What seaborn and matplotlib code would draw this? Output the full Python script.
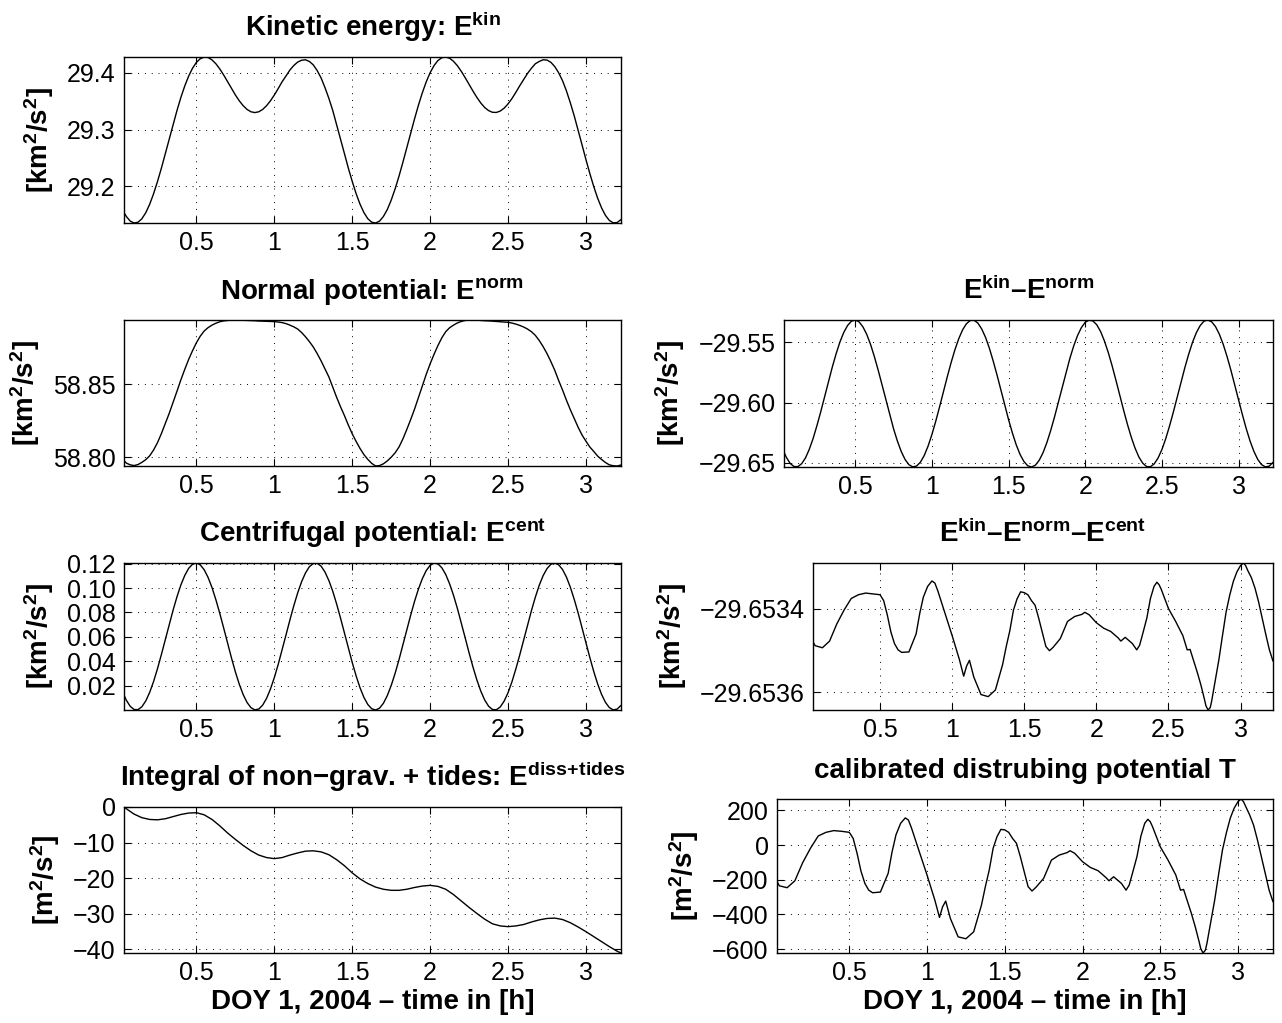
import matplotlib
matplotlib.use("Agg")
import matplotlib.pyplot as plt
import seaborn as sns

# ---------------- data ----------------
# main time grid [h]
t_grid = [0.035, 0.05, 0.10, 0.15, 0.20, 0.25, 0.30, 0.35, 0.40, 0.45,
          0.50, 0.55, 0.60, 0.65, 0.70, 0.75, 0.80, 0.85, 0.90, 0.95,
          1.00, 1.05, 1.10, 1.15, 1.20, 1.25, 1.30, 1.35, 1.40, 1.45,
          1.50, 1.55, 1.60, 1.65, 1.70, 1.75, 1.80, 1.85, 1.90, 1.95,
          2.00, 2.05, 2.10, 2.15, 2.20, 2.25, 2.30, 2.35, 2.40, 2.45,
          2.50, 2.55, 2.60, 2.65, 2.70, 2.75, 2.80, 2.85, 2.90, 2.95,
          3.00, 3.05, 3.10, 3.15, 3.20, 3.225]
# extra in-between read-off times for the smooth curves
t_mid = [0.075, 0.125, 0.175, 0.225, 0.275, 0.325, 0.375, 0.425, 0.475, 0.525,
         0.575, 0.625, 0.675, 0.725, 0.775, 0.825, 0.875, 0.925, 0.975, 1.025,
         1.075, 1.125, 1.175, 1.225, 1.275, 1.325, 1.375, 1.425, 1.475, 1.525,
         1.575, 1.625, 1.675, 1.725, 1.775, 1.825, 1.875, 1.925, 1.975, 2.025,
         2.075, 2.125, 2.175, 2.225, 2.275, 2.325, 2.375, 2.425, 2.475, 2.525,
         2.575, 2.625, 2.675, 2.725, 2.775, 2.825, 2.875, 2.925, 2.975, 3.025,
         3.075, 3.125, 3.175]

e_kin = [29.1538, 29.1470, 29.1355, 29.1430, 29.1686, 29.2086, 29.2576, 29.3091, 29.3566, 29.3942,
         29.4185, 29.4277, 29.4228, 29.4068, 29.3844, 29.3610, 29.3421, 29.3314, 29.3314, 29.3421,
         29.3610, 29.3844, 29.4050, 29.4190, 29.4230, 29.4140, 29.3910, 29.3550, 29.3085, 29.2576,
         29.2086, 29.1686, 29.1430, 29.1355, 29.1470, 29.1757, 29.2179, 29.2680, 29.3190, 29.3650,
         29.4003, 29.4217, 29.4279, 29.4203, 29.4026, 29.3795, 29.3567, 29.3390, 29.3305, 29.3327,
         29.3453, 29.3656, 29.3880, 29.4080, 29.4200, 29.4225, 29.4110, 29.3860, 29.3470, 29.2988,
         29.2472, 29.1998, 29.1623, 29.1401, 29.1363, 29.1416]
e_kin_mid = [29.1388, 29.1369, 29.1538, 29.1871, 29.2321, 29.2833, 29.3336, 29.3769, 29.4082, 29.4250,
             29.4270, 29.4159, 29.3961, 29.3724, 29.3507, 29.3355, 29.3300, 29.3355, 29.3507, 29.3724,
             29.3945, 29.4130, 29.4222, 29.4200, 29.4040, 29.3740, 29.3336, 29.2833, 29.2321, 29.1871,
             29.1538, 29.1369, 29.1388, 29.1592, 29.1955, 29.2424, 29.2937, 29.3432, 29.3842, 29.4128,
             29.4266, 29.4257, 29.4125, 29.3914, 29.3678, 29.3469, 29.3335, 29.3302, 29.3378, 29.3547,
             29.3772, 29.3990, 29.4160, 29.4230, 29.4185, 29.4000, 29.3680, 29.3240, 29.2731, 29.2226,
             29.1793, 29.1490, 29.1358]

e_norm = [58.7977, 58.7960, 58.7943, 58.7965, 58.8010, 58.8100, 58.8230, 58.8375, 58.8530, 58.8670,
          58.8785, 58.8865, 58.8905, 58.8928, 58.8937, 58.8940, 58.8938, 58.8936, 58.8933, 58.8931,
          58.8929, 58.8922, 58.8905, 58.8878, 58.8825, 58.8755, 58.8660, 58.8550, 58.8410, 58.8285,
          58.8160, 58.8060, 58.7985, 58.7940, 58.7955, 58.8000, 58.8070, 58.8190, 58.8330, 58.8490,
          58.8640, 58.8765, 58.8860, 58.8905, 58.8930, 58.8940, 58.8939, 58.8935, 58.8932, 58.8928,
          58.8924, 58.8912, 58.8892, 58.8860, 58.8800, 58.8710, 58.8595, 58.8460, 58.8325, 58.8205,
          58.8110, 58.8040, 58.7985, 58.7948, 58.7940, 58.7947]
e_norm_mid = [58.7948, 58.7950, 58.7984, 58.8050, 58.8162, 58.8300, 58.8452, 58.8602, 58.8730, 58.8830,
              58.8888, 58.8918, 58.8934, 58.8939, 58.8939, 58.8937, 58.8935, 58.8932, 58.8930, 58.8926,
              58.8915, 58.8893, 58.8854, 58.8792, 58.8710, 58.8605, 58.8480, 58.8345, 58.8220, 58.8108,
              58.8018, 58.7958, 58.7943, 58.7975, 58.8030, 58.8125, 58.8258, 58.8410, 58.8568, 58.8705,
              58.8818, 58.8887, 58.8920, 58.8937, 58.8940, 58.8937, 58.8934, 58.8930, 58.8926, 58.8919,
              58.8903, 58.8878, 58.8835, 58.8758, 58.8655, 58.8525, 58.8390, 58.8265, 58.8152, 58.8070,
              58.8008, 58.7964, 58.7942]

e_cent = [0.0121, 0.0080, 0.0004, 0.0027, 0.0145, 0.0339, 0.0576, 0.0818, 0.1025, 0.1161,
          0.1205, 0.1149, 0.1003, 0.0791, 0.0547, 0.0312, 0.0126, 0.0019, 0.0008, 0.0095,
          0.0266, 0.0494, 0.0739, 0.0961, 0.1124, 0.1201, 0.1179, 0.1061, 0.0868, 0.0631,
          0.0389, 0.0182, 0.0045, 0.0000, 0.0055, 0.0201, 0.0412, 0.0656, 0.0891, 0.1077,
          0.1186, 0.1198, 0.1111, 0.0940, 0.0713, 0.0468, 0.0246, 0.0082, 0.0004, 0.0025,
          0.0142, 0.0336, 0.0572, 0.0814, 0.1022, 0.1159, 0.1205, 0.1151, 0.1006, 0.0795,
          0.0551, 0.0316, 0.0129, 0.0020, 0.0007, 0.0038]
e_cent_mid = [0.0030, 0.0003, 0.0075, 0.0234, 0.0455, 0.0700, 0.0928, 0.1103, 0.1195, 0.1189,
              0.1086, 0.0903, 0.0671, 0.0426, 0.0211, 0.0061, 0.0001, 0.0040, 0.0172, 0.0375,
              0.0616, 0.0855, 0.1052, 0.1175, 0.1203, 0.1131, 0.0973, 0.0752, 0.0507, 0.0279,
              0.0103, 0.0010, 0.0015, 0.0118, 0.0300, 0.0533, 0.0777, 0.0992, 0.1143, 0.1204,
              0.1166, 0.1034, 0.0832, 0.0591, 0.0352, 0.0155, 0.0031, 0.0002, 0.0073, 0.0231,
              0.0451, 0.0696, 0.0924, 0.1101, 0.1195, 0.1190, 0.1089, 0.0906, 0.0674, 0.0430,
              0.0214, 0.0063, 0.0001]

e_diss = [0.0, -0.5, -2.0, -3.0, -3.5, -3.6, -3.3, -2.7, -2.1, -1.7,
          -1.6, -2.2, -3.5, -5.3, -7.3, -9.1, -10.8, -12.3, -13.5, -14.2,
          -14.5, -14.2, -13.5, -12.9, -12.4, -12.3, -12.6, -13.4, -14.8, -16.5,
          -18.5, -20.2, -21.5, -22.5, -23.1, -23.4, -23.4, -23.1, -22.6, -22.2,
          -22.0, -22.3, -23.1, -24.6, -26.4, -28.2, -29.9, -31.5, -32.8, -33.4,
          -33.6, -33.4, -33.0, -32.3, -31.7, -31.3, -31.2, -31.6, -32.5, -33.7,
          -35.0, -36.4, -37.8, -39.2, -40.5, -41.0]

e_kin_norm = [-29.6412, -29.6453, -29.6530, -29.6507, -29.6387, -29.6190, -29.5951, -29.5705, -29.5496, -29.5359,
              -29.5314, -29.5371, -29.5518, -29.5733, -29.5980, -29.6218, -29.6406, -29.6515, -29.6526, -29.6438,
              -29.6264, -29.6034, -29.5786, -29.5561, -29.5396, -29.5318, -29.5340, -29.5459, -29.5656, -29.5895,
              -29.6141, -29.6350, -29.6488, -29.6534, -29.6478, -29.6331, -29.6117, -29.5870, -29.5632, -29.5443,
              -29.5333, -29.5322, -29.5409, -29.5582, -29.5812, -29.6060, -29.6285, -29.6451, -29.6530, -29.6508,
              -29.6390, -29.6194, -29.5955, -29.5709, -29.5499, -29.5360, -29.5314, -29.5369, -29.5515, -29.5729,
              -29.5976, -29.6214, -29.6403, -29.6514, -29.6527, -29.6495]
e_kin_norm_mid = [-29.6504, -29.6531, -29.6459, -29.6297, -29.6074, -29.5825, -29.5594, -29.5417, -29.5324, -29.5330,
                  -29.5434, -29.5620, -29.5855, -29.6102, -29.6320, -29.6472, -29.6533, -29.6494, -29.6360, -29.6154,
                  -29.5910, -29.5668, -29.5469, -29.5345, -29.5316, -29.5389, -29.5549, -29.5772, -29.6021, -29.6252,
                  -29.6430, -29.6524, -29.6519, -29.6415, -29.6230, -29.5995, -29.5748, -29.5529, -29.5377, -29.5315,
                  -29.5353, -29.5487, -29.5692, -29.5936, -29.6178, -29.6377, -29.6502, -29.6532, -29.6460, -29.6300,
                  -29.6078, -29.5830, -29.5598, -29.5419, -29.5323, -29.5329, -29.5432, -29.5616, -29.5852, -29.6098,
                  -29.6317, -29.6470, -29.6533]

# residual curves (finer, irregular read-off times)
t_res = [0.035, 0.05, 0.10, 0.15, 0.20, 0.25, 0.30, 0.35, 0.40, 0.45,
         0.50, 0.525, 0.55, 0.60, 0.65, 0.70, 0.75, 0.80, 0.86, 0.90,
         0.95, 1.00, 1.05, 1.08, 1.10, 1.12, 1.15, 1.20, 1.25, 1.30,
         1.35, 1.40, 1.45, 1.50, 1.55, 1.60, 1.65, 1.675, 1.70, 1.75,
         1.80, 1.85, 1.90, 1.92, 1.95, 2.00, 2.05, 2.10, 2.15, 2.17,
         2.20, 2.25, 2.28, 2.30, 2.35, 2.40, 2.42, 2.45, 2.50, 2.55,
         2.60, 2.63, 2.65, 2.70, 2.75, 2.775, 2.80, 2.85, 2.90, 2.95,
         3.00, 3.02, 3.05, 3.10, 3.15, 3.20, 3.225,
         0.83, 0.88, 1.475, 1.525, 2.375, 2.435, 2.975, 3.035, 2.725, 2.76, 2.79,
         0.575, 0.625, 0.775, 1.375, 1.425, 1.575, 1.625, 2.325, 2.875, 2.925,
         3.075, 3.125, 3.175]

e_resid = [-29.653479, -29.653488, -29.653493, -29.653477, -29.653436, -29.653403, -29.653375, -29.653366, -29.653362, -29.653364,
           -29.653366, -29.653380, -29.653414, -29.653483, -29.653504, -29.653503, -29.653460, -29.653372, -29.653333, -29.653356,
           -29.653410, -29.653464, -29.653521, -29.653561, -29.653537, -29.653523, -29.653563, -29.653605, -29.653610, -29.653594,
           -29.653533, -29.653452, -29.653376, -29.653361, -29.653380, -29.653422, -29.653490, -29.653500, -29.653492, -29.653471,
           -29.653430, -29.653418, -29.653413, -29.653408, -29.653414, -29.653433, -29.653446, -29.653454, -29.653469, -29.653477,
           -29.653468, -29.653483, -29.653498, -29.653487, -29.653422, -29.653346, -29.653336, -29.653353, -29.653399, -29.653430,
           -29.653464, -29.653498, -29.653497, -29.653552, -29.653617, -29.653642, -29.653620, -29.653521, -29.653407, -29.653334,
           -29.653296, -29.653290, -29.653308, -29.653350, -29.653422, -29.653498, -29.653525,
           -29.653346, -29.653338, -29.653359, -29.653366, -29.653375, -29.653342, -29.653311, -29.653296, -29.653582,
           -29.653632, -29.653636,
           -29.653455, -29.653498, -29.653411, -29.653490, -29.653403, -29.653391, -29.653456, -29.653455, -29.653463,
           -29.653367, -29.653325, -29.653383, -29.653461]

t_pot = [-210, -235, -246, -206, -102, -19, 52, 73, 83, 79,
         73, 38, -48, -221, -275, -271, -163, 58, 156, 98,
         -38, -173, -317, -417, -356, -323, -423, -529, -540, -500,
         -346, -144, 48, 87, 38, -67, -240, -265, -244, -192,
         -87, -58, -44, -33, -48, -96, -129, -148, -187, -206,
         -183, -221, -260, -231, -67, 125, 148, 106, -10, -87,
         -173, -260, -256, -394, -558, -622, -567, -317, -29, 154,
         250, 265, 221, 115, -67, -260, -327,
         125, 144, 90, 73, 50, 135, 212, 250, -471, -596, -606,
         -150, -260, -40, -240, -19, 10, -154, -150, -170, 70,
         173, 29, -163]

x_ticks = [0.5, 1.0, 1.5, 2.0, 2.5, 3.0]
x_tick_labels = ["0.5", "1", "1.5", "2", "2.5", "3"]

# ---------------- style ----------------
sns.set_theme(style="white")
plt.rcParams["font.family"] = ["Liberation Sans", "DejaVu Sans"]
plt.rcParams.update({
    "mathtext.fontset": "custom",
    "mathtext.rm": "Liberation Sans:bold",
    "mathtext.it": "Liberation Sans:bold",
    "mathtext.bf": "Liberation Sans:bold",
    "mathtext.sf": "Liberation Sans:bold",
    "mathtext.default": "rm",
})

W, H = 1282, 1023
fig = plt.figure(figsize=(W / 100, H / 100), dpi=100)
fig.patch.set_facecolor("white")


def rect(l, r, t, b):
    return [l / W, 1 - b / H, (r - l) / W, (b - t) / H]


M = "\u2212"
panels = [
    dict(pos=(124, 621, 57, 223), t=t_grid + t_mid, y=e_kin + e_kin_mid,
         title="Kinetic energy: $E^{kin}$", ylabel="[km$^2$/s$^2$]",
         yt=[29.2, 29.3, 29.4], ytl=["29.2", "29.3", "29.4"], xlabel=None),
    dict(pos=(124, 621, 320, 466), t=t_grid + t_mid, y=e_norm + e_norm_mid,
         title="Normal potential: $E^{norm}$", ylabel="[km$^2$/s$^2$]",
         yt=[58.80, 58.85], ytl=["58.80", "58.85"], xlabel=None),
    dict(pos=(124, 621, 563, 710), t=t_grid + t_mid, y=e_cent + e_cent_mid,
         title="Centrifugal potential: $E^{cent}$", ylabel="[km$^2$/s$^2$]",
         yt=[0.02, 0.04, 0.06, 0.08, 0.10, 0.12],
         ytl=["0.02", "0.04", "0.06", "0.08", "0.10", "0.12"], xlabel=None),
    dict(pos=(124, 621, 807, 953), t=t_grid, y=e_diss,
         title="Integral of non" + M + "grav. + tides: $E^{diss\\!+\\!tides}$",
         ylabel="[m$^2$/s$^2$]",
         yt=[-40, -30, -20, -10, 0],
         ytl=[M + "40", M + "30", M + "20", M + "10", "0"],
         xlabel="DOY 1, 2004 \u2013 time in [h]"),
    dict(pos=(784, 1273, 320, 467), t=t_grid + t_mid, y=e_kin_norm + e_kin_norm_mid,
         title="$E^{kin}$\u2013$E^{norm}$", ylabel="[km$^2$/s$^2$]",
         yt=[-29.65, -29.60, -29.55],
         ytl=[M + "29.65", M + "29.60", M + "29.55"], xlabel=None),
    dict(pos=(813, 1273, 563, 710), t=t_res, y=e_resid,
         title="$E^{kin}$\u2013$E^{norm}$\u2013$E^{cent}$", ylabel="[km$^2$/s$^2$]",
         yt=[-29.6536, -29.6534],
         ytl=[M + "29.6536", M + "29.6534"], xlabel=None),
    dict(pos=(777, 1273, 799, 953), t=t_res, y=t_pot,
         title="calibrated distrubing potential T", ylabel="[m$^2$/s$^2$]",
         yt=[-600, -400, -200, 0, 200],
         ytl=[M + "600", M + "400", M + "200", "0", "200"],
         xlabel="DOY 1, 2004 \u2013 time in [h]"),
]

for p in panels:
    ax = fig.add_axes(rect(*p["pos"]))
    sns.lineplot(x=p["t"], y=p["y"], ax=ax, color="black", linewidth=1.0,
                 estimator=None, sort=True)
    ax.set_xlim(min(p["t"]), max(p["t"]))
    ax.set_ylim(min(p["y"]), max(p["y"]))
    ax.set_xticks(x_ticks, labels=x_tick_labels)
    ax.set_yticks(p["yt"], labels=p["ytl"])
    ax.set_facecolor("white")
    ax.grid(True, color="black", linestyle=(0, (1, 6)), linewidth=0.7)
    for s in ax.spines.values():
        s.set_color("black")
        s.set_linewidth(1.0)
        s.set_visible(True)
    ax.tick_params(axis="both", direction="in", length=5, width=0.8,
                   colors="black", labelsize=18,
                   top=True, right=True, bottom=True, left=True)
    ax.tick_params(axis="x", pad=6)
    ax.tick_params(axis="y", pad=6)
    ax.set_title(p["title"], fontsize=20, fontweight="bold", pad=15,
                 color="black")
    ax.set_ylabel(p["ylabel"], fontsize=20, fontweight="bold", labelpad=8,
                  color="black")
    if p["xlabel"]:
        ax.set_xlabel(p["xlabel"], fontsize=20, fontweight="bold", labelpad=3,
                      color="black")
    else:
        ax.set_xlabel("")

fig.savefig("out.png", dpi=100, facecolor="white")
